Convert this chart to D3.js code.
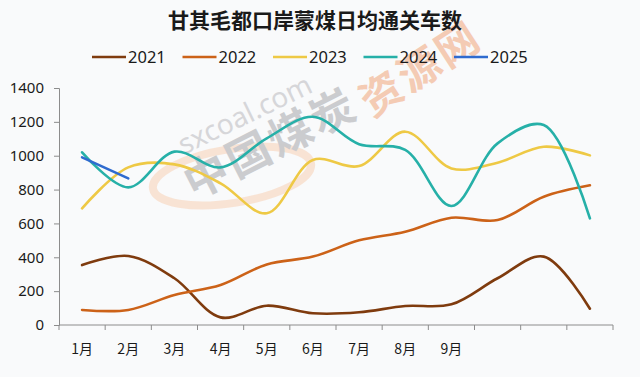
<!DOCTYPE html>
<html><head><meta charset="utf-8">
<script src="https://cdn.jsdelivr.net/npm/d3@7"></script>
<style>
html,body{margin:0;padding:0;background:#f9fafb;}
svg{display:block;}
</style></head>
<body>
<svg id="chart" width="640" height="377"></svg>
<script>
const title = "甘其毛都口岸蒙煤日均通关车数";
const months = [1,2,3,4,5,6,7,8,9,10,11,12];
const monthLabels = ["1月","2月","3月","4月","5月","6月","7月","8月","9月","","",""];
const seriesNames = ["2021","2022","2023","2024","2025"];
const s2021 = [354, 408, 276, 45, 114, 69, 75, 112, 122, 276, 404, 96];
const s2022 = [89, 89, 177, 236, 358, 404, 500, 551, 634, 620, 758, 825];
const s2023 = [689, 931, 949, 837, 660, 975, 939, 1142, 925, 959, 1053, 1002];
const s2024 = [1020, 813, 1024, 931, 1103, 1230, 1068, 1034, 703, 1073, 1181, 630];
const s2025 = [990, 866];
const yTicks = [0,200,400,600,800,1000,1200,1400];
const colors = ["#7f3b0e","#cc6218","#eec945","#26b0a8","#2f6bcf"];

const seriesData = [s2021, s2022, s2023, s2024, s2025];
const svg = d3.select("#chart");
const font = "'Noto Sans', 'DejaVu Sans', sans-serif";
const cjk = "'Noto Sans CJK SC', sans-serif";

const x = d3.scaleBand().domain(months).range([59, 613]).padding(0);
const y = d3.scaleLinear().domain([0, 1400]).range([325, 88]);

// watermark
const wm = svg.append("g").attr("class","watermark");
wm.append("ellipse").attr("cx",232).attr("cy",176).attr("rx",80).attr("ry",27)
  .attr("transform","rotate(-9,232,176)")
  .attr("fill","none").attr("stroke","#f8ddca").attr("stroke-width",8).attr("opacity",0.8);
wm.append("text").attr("transform","translate(184,155) rotate(-26)")
  .attr("font-family",font).attr("font-size",28).attr("fill","#d6d6d9").text("sxcoal.com");
wm.append("text").attr("transform","translate(194,200) rotate(-27)")
  .attr("font-family",cjk).attr("font-weight","bold").attr("letter-spacing",3)
  .attr("font-size",44).attr("fill","#c9cacd").attr("opacity",0.95).text("中国煤炭");
wm.append("text").attr("transform","translate(372,118) rotate(-33)")
  .attr("font-family",cjk).attr("font-weight","bold").attr("letter-spacing",3)
  .attr("font-size",42).attr("fill","#f4c3a8").attr("opacity",0.85).text("资源网");

// title
svg.append("text").attr("x",315).attr("y",28).attr("text-anchor","middle")
  .attr("font-family",cjk).attr("font-weight","bold")
  .attr("font-size",21).attr("fill","#1a1a1a").text(title);

// legend
const lg = svg.append("g");
seriesNames.forEach((n,i)=>{
  const x0 = 92 + i*90.5;
  lg.append("line").attr("x1",x0).attr("x2",x0+34).attr("y1",57).attr("y2",57)
    .attr("stroke",colors[i]).attr("stroke-width",2.5);
  lg.append("text").attr("x",x0+36).attr("y",63).attr("font-family",font)
    .attr("font-size",16.5).attr("fill","#1a1a1a").text(n);
});

// y axis
const yAxis = svg.append("g").attr("transform","translate(59,0)")
  .call(d3.axisLeft(y).tickValues(yTicks).tickSize(5).tickPadding(10).tickFormat(d3.format("d")));
yAxis.select(".domain").attr("stroke","#8c8c8c");
yAxis.selectAll(".tick line").attr("stroke","#8c8c8c");
yAxis.selectAll("text").attr("font-family",font).attr("font-size",15).attr("fill","#1a1a1a");

// x axis
const xAxis = svg.append("g").attr("transform","translate(0,325)")
  .call(d3.axisBottom(x).tickSize(0).tickPadding(0).tickFormat((d,i)=>monthLabels[i]));
xAxis.select(".domain").attr("stroke","#8c8c8c").attr("d","M59,0H613");
xAxis.selectAll(".tick text").attr("font-family",cjk)
  .attr("font-size",14).attr("fill","#1a1a1a").attr("dy","1.5em")
  .attr("transform","translate(0,8)");
// boundary ticks
const bounds = months.map(m=>x(m)).concat([x(12)+x.bandwidth()]);
svg.append("g").selectAll("line").data(bounds).join("line")
  .attr("x1",d=>d).attr("x2",d=>d).attr("y1",325).attr("y2",330)
  .attr("stroke","#8c8c8c");

// lines
const line = d3.line()
  .x((d,i)=>x(months[i]) + x.bandwidth()/2)
  .y(d=>y(d))
  .curve(d3.curveCatmullRom.alpha(0.5));
seriesData.forEach((s,i)=>{
  svg.append("path").datum(s).attr("d",line).attr("fill","none")
    .attr("stroke",colors[i]).attr("stroke-width",2.6).attr("stroke-linecap","round");
});
</script>
</body></html>
